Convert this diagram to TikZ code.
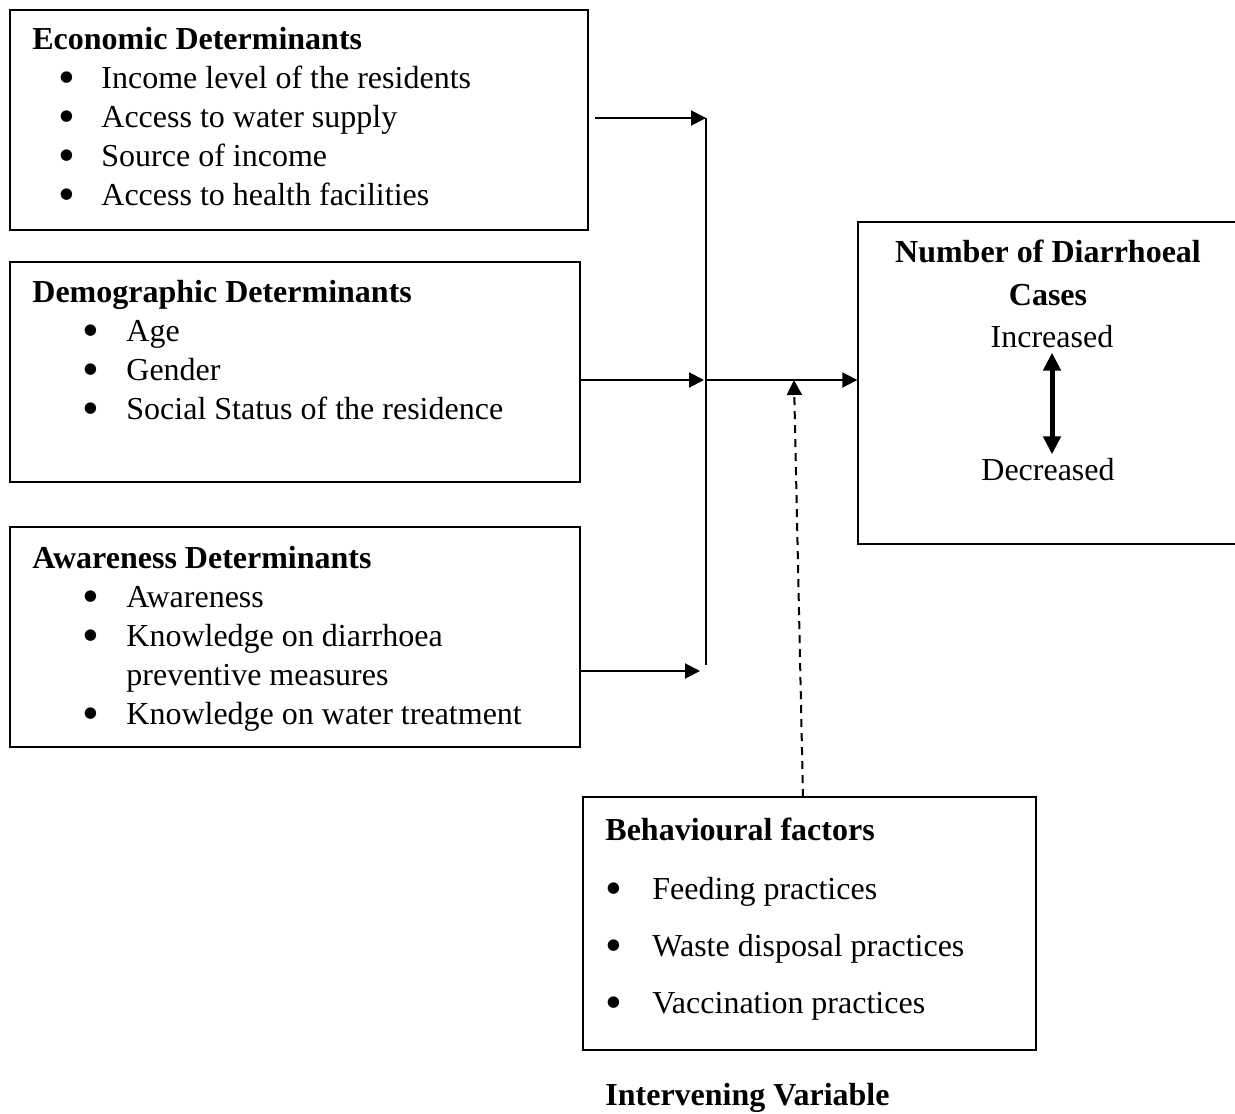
\documentclass[tikz,border=0pt]{standalone}
\usepackage{fontspec}
\setmainfont{Liberation Serif}
\usetikzlibrary{arrows.meta}

\newcommand{\bulitem}[2]{\makebox[#1][l]{\smash{\raisebox{-2.4pt}{\fontsize{24}{24}\selectfont\textbullet}}}#2}

\begin{document}
\begin{tikzpicture}[x=0.5pt, y=-0.5pt, >={Triangle[length=7.5pt,width=7.5pt]},
    every node/.style={font=\fontsize{16}{19.5}\selectfont, inner sep=0pt},
    frame/.style={draw, line width=0.7pt, rectangle},
    txt/.style={anchor=north west, align=left},
    arr/.style={->, line width=1pt}]
    \clip (0,0) rectangle (1235,1113);

    % Boxes
    \node (econ) [frame, minimum width=289pt, minimum height=110pt] at (299,120) {};
    \node (demo) [frame, minimum width=285pt, minimum height=110pt] at (295,372) {};
    \node (aware) [frame, minimum width=285pt, minimum height=110pt] at (295,637) {};
    \node (behav) [frame, minimum width=226.5pt, minimum height=126.5pt] at (809.5,923.5) {};
    \node (cases) [frame, minimum width=193.5pt, minimum height=161pt] at (1051.5,383) {};

    % Texts
    \node (econtxt) [txt] at (32,27) {\textbf{Economic Determinants}\\
        \hspace*{13pt}\bulitem{21.5pt}{Income level of the residents}\\
        \hspace*{13pt}\bulitem{21.5pt}{Access to water supply}\\
        \hspace*{13pt}\bulitem{21.5pt}{Source of income}\\
        \hspace*{13pt}\bulitem{21.5pt}{Access to health facilities}};
    \node (demotxt) [txt] at (32,280) {\textbf{Demographic Determinants}\\
        \hspace*{25pt}\bulitem{22pt}{Age}\\
        \hspace*{25pt}\bulitem{22pt}{Gender}\\
        \hspace*{25pt}\bulitem{22pt}{Social Status of the residence}};
    \node (awaretxt) [txt] at (32,546) {\textbf{Awareness Determinants}\\
        \hspace*{25pt}\bulitem{22pt}{Awareness}\\
        \hspace*{25pt}\bulitem{22pt}{Knowledge on diarrhoea}\\
        \hspace*{47pt}preventive measures\\
        \hspace*{25pt}\bulitem{22pt}{Knowledge on water treatment}};
    \node (behavtxt) [txt] at (605,818) {\textbf{Behavioural factors}\\[10pt]
        \hspace*{0pt}\bulitem{23.5pt}{Feeding practices}\\[9pt]
        \hspace*{0pt}\bulitem{23.5pt}{Waste disposal practices}\\[9pt]
        \hspace*{0pt}\bulitem{23.5pt}{Vaccination practices}};
    \node (casestxt) [anchor=north, align=center] at (1048,240) {\textbf{Number of Diarrhoeal}\\[2pt]\textbf{Cases}};
    \node (inc) [inner sep=2pt] at (1052,337) {Increased};
    \node (dec) [inner sep=2pt] at (1048,470) {Decreased};
    \node (interv) [anchor=west] at (605,1098) {\textbf{Intervening Variable}};

    % Junction points
    \coordinate (jtop) at (706,118);
    \coordinate (jmid) at (706,380);
    \coordinate (jbot) at (706,665);
    \coordinate (awin) at (700,671);
    \coordinate (dtop) at (794,380);
    \coordinate (dbot) at (803,797);

    % Arrows into the chain
    \draw[arr] ([xshift=3pt]econ.east |- jtop) -- (jtop);
    \draw[arr] (demo.east |- jmid) -- ([xshift=-1pt]jmid);
    \draw[arr] (aware.east |- awin) -- (awin);
    \draw[line width=1pt] (jtop) -- (jbot);
    \draw[arr] (jmid) -- (cases.west |- jmid);

    % Intervening variable
    \draw[arr, dash pattern=on 4pt off 3pt] (dbot) -- (dtop);

    % Increased / decreased
    \draw[{Triangle[length=9pt,width=8.5pt]}-{Triangle[length=9pt,width=8.5pt]}, line width=2.5pt] (inc.south) -- (inc.south |- dec.north);
\end{tikzpicture}
\end{document}
